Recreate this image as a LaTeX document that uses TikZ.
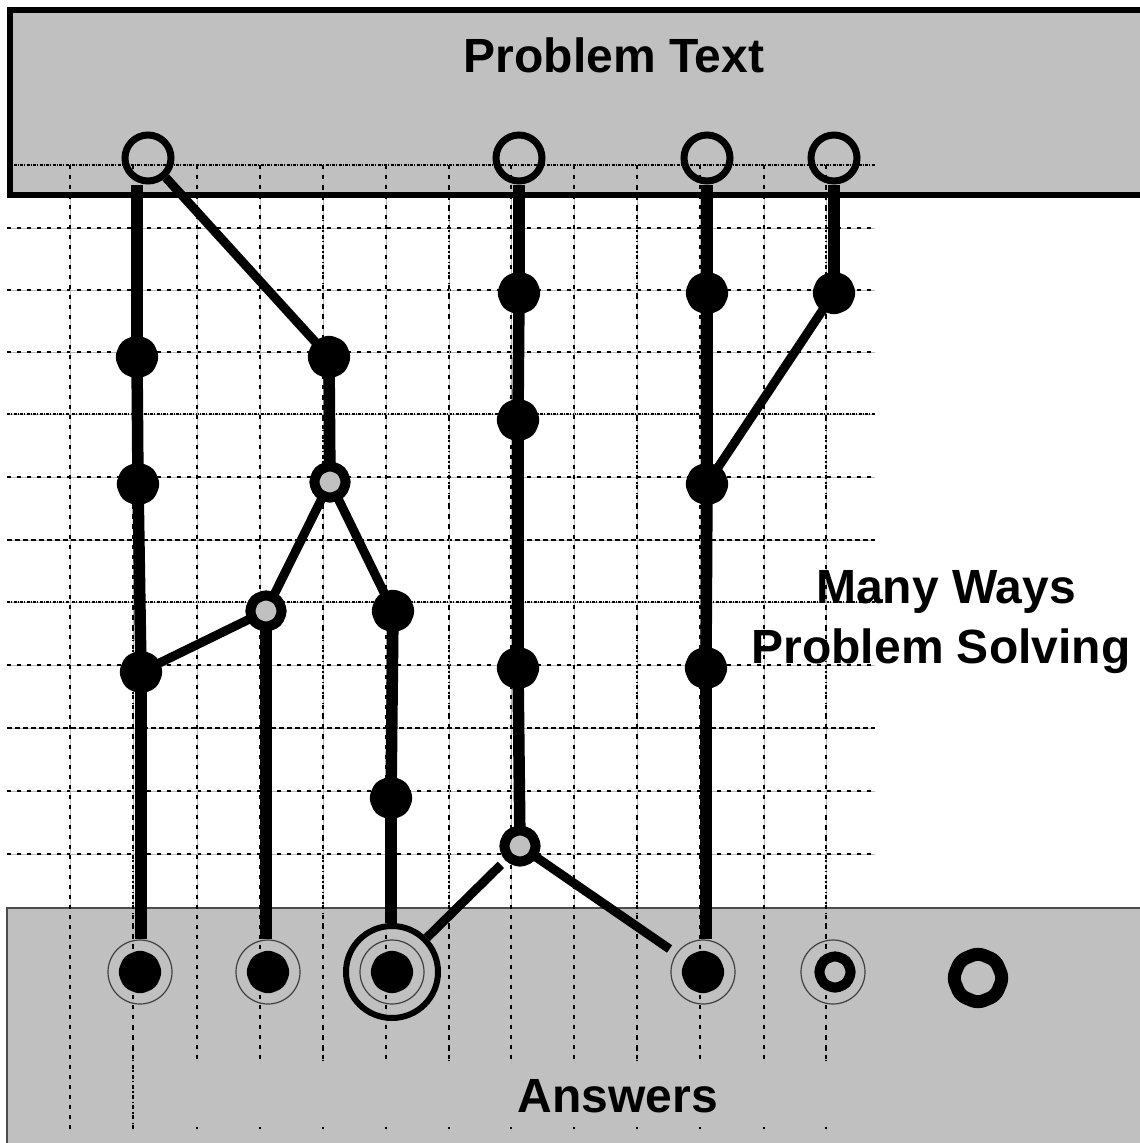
\documentclass[tikz,border=0pt]{standalone}
\usepackage{fontspec}
\usetikzlibrary{shapes.geometric}
\setmainfont{Liberation Sans}
\definecolor{silv}{RGB}{192,192,192}
\pgfdeclarelayer{gridl}
\pgfdeclarelayer{links}
\pgfsetlayers{gridl,links,main}
\begin{document}
\begin{tikzpicture}[x=1pt,y=-1pt,
  conn/.style={line width=11.5pt},
  diag/.style={line width=9pt},
  topc/.style={circle,draw=black,line width=7pt,minimum size=46pt,inner sep=0pt},
  blob/.style={regular polygon,regular polygon sides=8,shape border rotate=22.5,rounded corners=6pt,fill=black,minimum size=45pt,inner sep=0pt},
  gblob/.style={regular polygon,regular polygon sides=8,shape border rotate=22.5,rounded corners=4pt,draw=black,fill=silv,line width=10pt,minimum size=33pt,inner sep=0pt},
  ans/.style={circle,draw=black!75,line width=1.2pt,minimum size=64pt,inner sep=0pt},
  bigring/.style={circle,draw=black,line width=6pt,minimum size=92pt,inner sep=0pt},
  ring/.style={regular polygon,regular polygon sides=8,shape border rotate=22.5,rounded corners=6pt,draw=black,line width=13pt,minimum size=50pt,inner sep=0pt},
  gbase/.style={draw=black!28,line width=1pt},
  gdash/.style={line width=1.2pt,dash pattern=on 4pt off 6pt},
  gdense/.style={line width=1.6pt,dash pattern=on 3pt off 1pt on 1pt off 1.5pt},
  gbold/.style={line width=2.6pt,dash pattern=on 5pt off 3pt},
  gdot/.style={line width=2pt,dash pattern=on 1.5pt off 9pt},
  lbl/.style={font=\bfseries\fontsize{48}{56}\selectfont,anchor=base,inner sep=0pt}
]
\useasboundingbox (0,0) rectangle (1140,1143);
\clip (0,0) rectangle (1140,1143);
\begin{pgfonlayer}{gridl}
% boxes
\fill[silv] (7,908) rectangle (1150,1150);
\draw[black!70,line width=1.5pt] (7,1150) -- (7,908) -- (1150,908);
\fill[silv] (10,10) rectangle (1150,195);
% grid
\foreach \y in {228,290,352,477,665,791,854} {
  \draw[gbase] (7,\y) -- (875,\y);
  \draw[gdash] (7,\y) -- (875,\y);
}
\foreach \y in {165,414,602} {
  \draw[gbase] (7,\y) -- (875,\y);
  \draw[gdense] (7,\y) -- (875,\y);
}
\foreach \y in {540,728} {
  \draw[gbase] (7,\y) -- (875,\y);
  \draw[gbold] (7,\y) -- (875,\y);
}
\foreach \x in {70,197,260,386,511,574,700,764} {
  \draw[gbase] (\x,165) -- (\x,1132);
  \draw[gdash] (\x,165) -- (\x,1132);
}
\foreach \x in {133,323,449,637,826} {
  \draw[gbase] (\x,165) -- (\x,1132);
  \draw[gdash] (\x,165) -- (\x,1132);
  \draw[gdot] (\x,167) -- (\x,1130);
}
\fill[silv] (165,1064) rectangle (850,1127);
\draw[line width=6pt] (1150,10) -- (10,10) -- (10,195) -- (1150,195);
\end{pgfonlayer}
% nodes
\node[topc] (t1) at (148,158) {};
\node[topc] (t2) at (519,158) {};
\node[topc] (t3) at (707,158) {};
\node[topc] (t4) at (834,158) {};
\node[blob] (a1) at (137,357) {};
\node[blob] (a2) at (138,484) {};
\node[blob] (a3) at (141,672) {};
\node[blob] (b1) at (329,357) {};
\node[gblob] (b2) at (330,482) {};
\node[gblob] (c1) at (266,611) {};
\node[blob] (d1) at (393,611) {};
\node[blob] (d2) at (391,798) {};
\node[blob] (e1) at (519,293) {};
\node[blob] (e2) at (518,420) {};
\node[blob] (e3) at (518,668) {};
\node[gblob] (e4) at (520,846) {};
\node[blob] (f1) at (707,293) {};
\node[blob] (f2) at (707,484) {};
\node[blob] (f3) at (706,668) {};
\node[blob] (g1) at (834,293) {};
\node[ans] (r1) at (140,972) {};
\node[blob] (r1b) at (r1) {};
\node[ans] (r2) at (268,972) {};
\node[blob] (r2b) at (r2) {};
\node[ans] (r3) at (392,972) {};
\node[blob] (r3b) at (r3) {};
\node[bigring] (r3o) at (r3) {};
\node[ans] (r4) at (703,972) {};
\node[blob] (r4b) at (r4) {};
\node[ans] (r5) at (833,972) {};
\node[gblob] (r5b) at (835,972) {};
\node[ring] (r6) at (978,978) {};
% connectors
\begin{pgfonlayer}{links}
\draw[conn] (a1.center) -- (a1 |- t1.south);
\draw[conn] (a1.center) -- (a2.center);
\draw[conn] (a2.center) -- (a3.center);
\draw[conn] (a3.center) -- (a3 |- r1.north);
\draw[diag] (t1) -- (b1.center);
\draw[conn] (b1.center) -- (b2.center);
\draw[diag] (b2.center) -- (c1.center);
\draw[diag] (b2.center) -- (d1.center);
\draw[diag] (c1.center) -- (a3.center);
\draw[conn] (c1.center) -- (c1 |- r2.north);
\draw[conn] (d1.center) -- (d2.center);
\draw[conn] (d2.center) -- (d2 |- r3o.north);
\draw[conn] (t2) -- (e1.center);
\draw[conn] (e1.center) -- (e2.center);
\draw[conn] (e2.center) -- (e3.center);
\draw[conn] (e3.center) -- (e4.center);
\draw[diag,shorten <=5pt] (e4) -- (r3o);
\draw[diag,shorten >=8pt] (e4.center) -- (r4);
\draw[conn] (t3) -- (f1.center);
\draw[conn] (f1.center) -- (f2.center);
\draw[conn] (f2.center) -- (f3.center);
\draw[conn] (f3.center) -- (f3 |- r4.north);
\draw[conn] (t4) -- (g1.center);
\draw[diag] (g1.center) -- (f2.center);
\end{pgfonlayer}
% labels
\node[lbl] (ptext) at (614,72) {Problem Text};
\node[lbl] (many) at (946,603) {Many Ways};
\node[lbl] (solv) at (941,663) {Problem Solving};
\node[lbl] (answ) at (618,1112) {Answers};
\end{tikzpicture}
\end{document}
